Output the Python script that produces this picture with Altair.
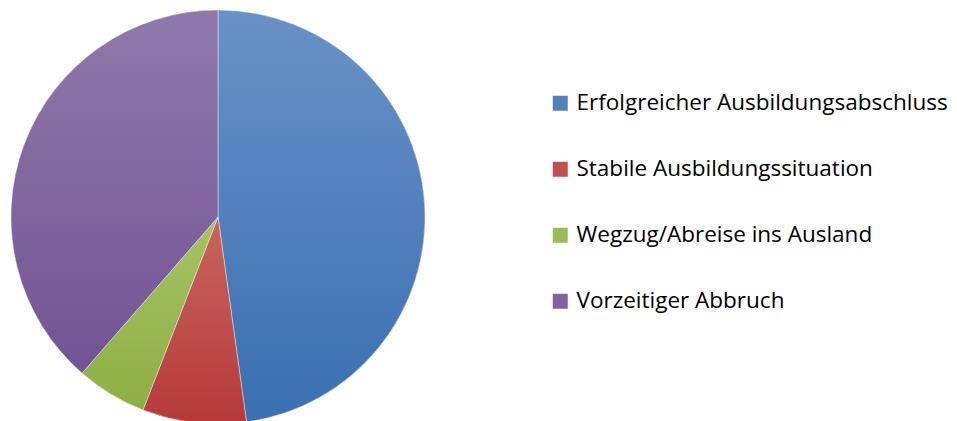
import altair as alt
import pandas as pd

categories = [
    "Erfolgreicher Ausbildungsabschluss",
    "Stabile Ausbildungssituation",
    "Wegzug/Abreise ins Ausland",
    "Vorzeitiger Abbruch",
]
values = [47.8, 8.1, 5.5, 38.6]
order_idx = [0, 1, 2, 3]
colors = ["#4F81BD", "#C0504D", "#9BBB59", "#8064A2"]
grad_top = ["#6991C7", "#C9655F", "#A7C365", "#8F79AB"]
grad_bottom = ["#3A6FB1", "#B6393A", "#8CAF44", "#725394"]

df = pd.DataFrame({"cat": categories, "val": values, "idx": order_idx})


def grad(top, bottom):
    return {
        "gradient": "linear",
        "x1": 0, "y1": 0, "x2": 0, "y2": 1,
        "stops": [
            {"offset": 0, "color": top},
            {"offset": 1, "color": bottom},
        ],
    }


base = alt.Chart(df).transform_window(
    end="sum(val)", sort=[alt.SortField("idx")], frame=[None, 0]
).transform_calculate(start="datum.end - datum.val")

theta_scale = alt.Scale(domain=[0, sum(values)])

legend_layer = base.mark_arc(outerRadius=207, stroke="#ffffff", strokeWidth=0.6).encode(
    theta=alt.Theta("start:Q", scale=theta_scale),
    theta2="end:Q",
    color=alt.Color(
        "cat:N",
        scale=alt.Scale(domain=categories, range=colors),
        sort=categories,
        legend=alt.Legend(
            title=None,
            orient="none",
            legendX=541,
            legendY=82,
            padding=0,
            symbolType="square",
            symbolSize=225,
            symbolStrokeWidth=0,
            labelFont="Open Sans",
            labelFontSize=22.5,
            labelColor="#000000",
            labelLimit=600,
            rowPadding=43,
            symbolOffset=0,
            labelOffset=5,
        ),
    ),
)

conds = [
    {"test": f"datum.cat === '{c}'", "value": grad(t, b)}
    for c, t, b in zip(categories[:-1], grad_top[:-1], grad_bottom[:-1])
]

grad_layer = base.mark_arc(outerRadius=207, stroke="#ffffff", strokeWidth=0.6, strokeOpacity=0.7).encode(
    theta=alt.Theta("start:Q", scale=theta_scale),
    theta2="end:Q",
    fill={"condition": conds, "value": grad(grad_top[-1], grad_bottom[-1])},
)

chart = alt.layer(legend_layer, grad_layer).properties(
    width=420, height=414, padding=0
).configure_view(stroke=None).configure(background="#ffffff")

chart.save("out.html", embed_options={"renderer": "svg", "actions": False})
